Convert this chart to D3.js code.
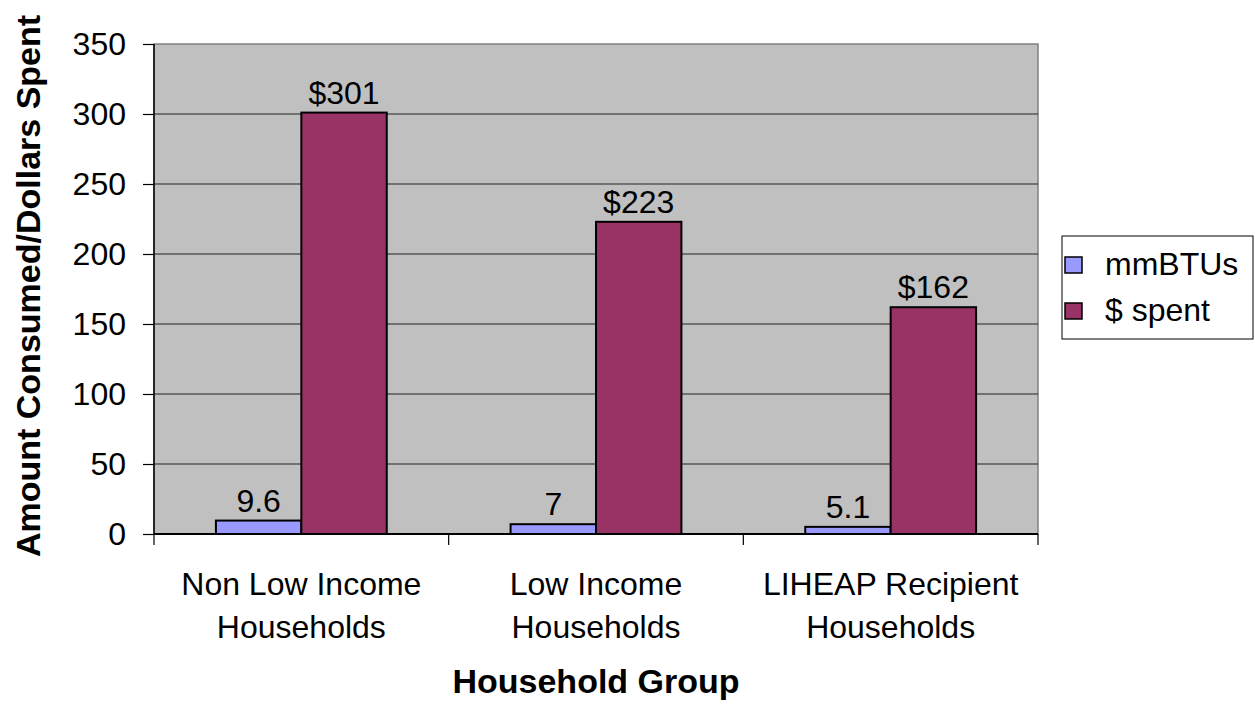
<!DOCTYPE html>
<html><head><meta charset="utf-8">
<script src="https://cdn.jsdelivr.net/npm/d3@7"></script>
<style>body{margin:0;background:#fff;} text{font-family:Arial,"Liberation Sans",sans-serif;}</style>
</head><body>
<svg id="c" width="1255" height="704"></svg>
<script>
const categories = [["Non Low Income","Households"],["Low Income","Households"],["LIHEAP Recipient","Households"]];
const seriesNames = ["mmBTUs","$ spent"];
const mmBTUs = [9.6, 7, 5.1];
const spent = [301, 223, 162];
const mmLabels = ["9.6","7","5.1"];
const spentLabels = ["$301","$223","$162"];
const yTicks = [0,50,100,150,200,250,300,350];
const colors = ["#9999FF","#993366"];

const svg = d3.select("#c");
const L=154, R=1038, T=44, B=534;
const FS = 32;
const x = d3.scaleBand().domain(d3.range(3)).range([L,R]).paddingInner(0).paddingOuter(0);
const y = d3.scaleLinear().domain([0,350]).range([B,T]);

svg.append("rect").attr("x",L).attr("y",T).attr("width",R-L).attr("height",B-T).attr("fill","#C0C0C0").attr("stroke","#808080").attr("stroke-width",1.5);

// gridlines
svg.append("g").selectAll("line").data(yTicks.filter(d=>d>0 && d<350)).join("line")
  .attr("x1",L).attr("x2",R).attr("y1",d=>y(d)).attr("y2",d=>y(d)).attr("stroke","#222").attr("stroke-width",1);

// bars
const bw = x.bandwidth();
const barW = bw/(2+1.45);
const gap = (bw-2*barW)/2;
const series = [mmBTUs, spent];
const labels = [mmLabels, spentLabels];
series.forEach((vals,si)=>{
  const g = svg.append("g");
  g.selectAll("rect").data(vals).join("rect")
    .attr("x",(d,i)=>x(i)+gap+si*barW).attr("width",barW)
    .attr("y",d=>y(d)).attr("height",d=>B-y(d))
    .attr("fill",colors[si]).attr("stroke","#000").attr("stroke-width",2);
  g.selectAll("text").data(vals).join("text")
    .attr("x",(d,i)=>x(i)+gap+si*barW+barW/2).attr("y",d=>y(d)-9)
    .attr("text-anchor","middle").attr("font-size",FS).attr("fill","#000")
    .text((d,i)=>labels[si][i]);
});

// y axis
const ya = svg.append("g").attr("transform",`translate(${L},0)`)
  .call(d3.axisLeft(y).tickValues(yTicks).tickSize(11).tickPadding(17));
ya.select(".domain").attr("stroke","#000").attr("stroke-width",1.5).attr("d",`M0,${T}V${B}`);
ya.selectAll(".tick line").attr("stroke","#000").attr("stroke-width",1.2);
ya.selectAll(".tick text").attr("font-size",FS).attr("font-family","Arial, Liberation Sans, sans-serif").attr("fill","#000");

// x axis
const xa = svg.append("g").attr("transform",`translate(0,${B})`);
xa.append("line").attr("x1",L).attr("x2",R).attr("y1",0).attr("y2",0).attr("stroke","#000").attr("stroke-width",2);
xa.selectAll("line.t").data(d3.range(4)).join("line").attr("class","t")
  .attr("x1",i=>L+i*bw).attr("x2",i=>L+i*bw).attr("y1",0).attr("y2",11).attr("stroke","#000").attr("stroke-width",1.2);
const ct = xa.selectAll("text").data(categories).join("text")
  .attr("x",(d,i)=>x(i)+bw/2).attr("y",61).attr("text-anchor","middle").attr("font-size",FS).attr("fill","#000");
ct.each(function(d){
  const t=d3.select(this);
  d.forEach((line,k)=>t.append("tspan").attr("x",t.attr("x")).attr("dy",k?43:0).text(line));
});

// titles
svg.append("text").attr("x",(L+R)/2).attr("y",693).attr("text-anchor","middle").attr("font-size",34).attr("font-weight","bold").text("Household Group");
svg.append("text").attr("transform",`translate(40,286) rotate(-90)`).attr("text-anchor","middle").attr("font-size",34).attr("font-weight","bold").text("Amount Consumed/Dollars Spent");

// legend
const lg = svg.append("g");
lg.append("rect").attr("x",1062).attr("y",236).attr("width",191).attr("height",103).attr("fill","#fff").attr("stroke","#000").attr("stroke-width",1);
seriesNames.forEach((n,i)=>{
  const yy = 275 + i*46;
  lg.append("rect").attr("x",1065).attr("y",yy-18).attr("width",17).attr("height",16).attr("fill",colors[i]).attr("stroke","#000").attr("stroke-width",1.5);
  lg.append("text").attr("x",1105).attr("y",yy).attr("font-size",FS).text(n);
});
</script>
</body></html>
